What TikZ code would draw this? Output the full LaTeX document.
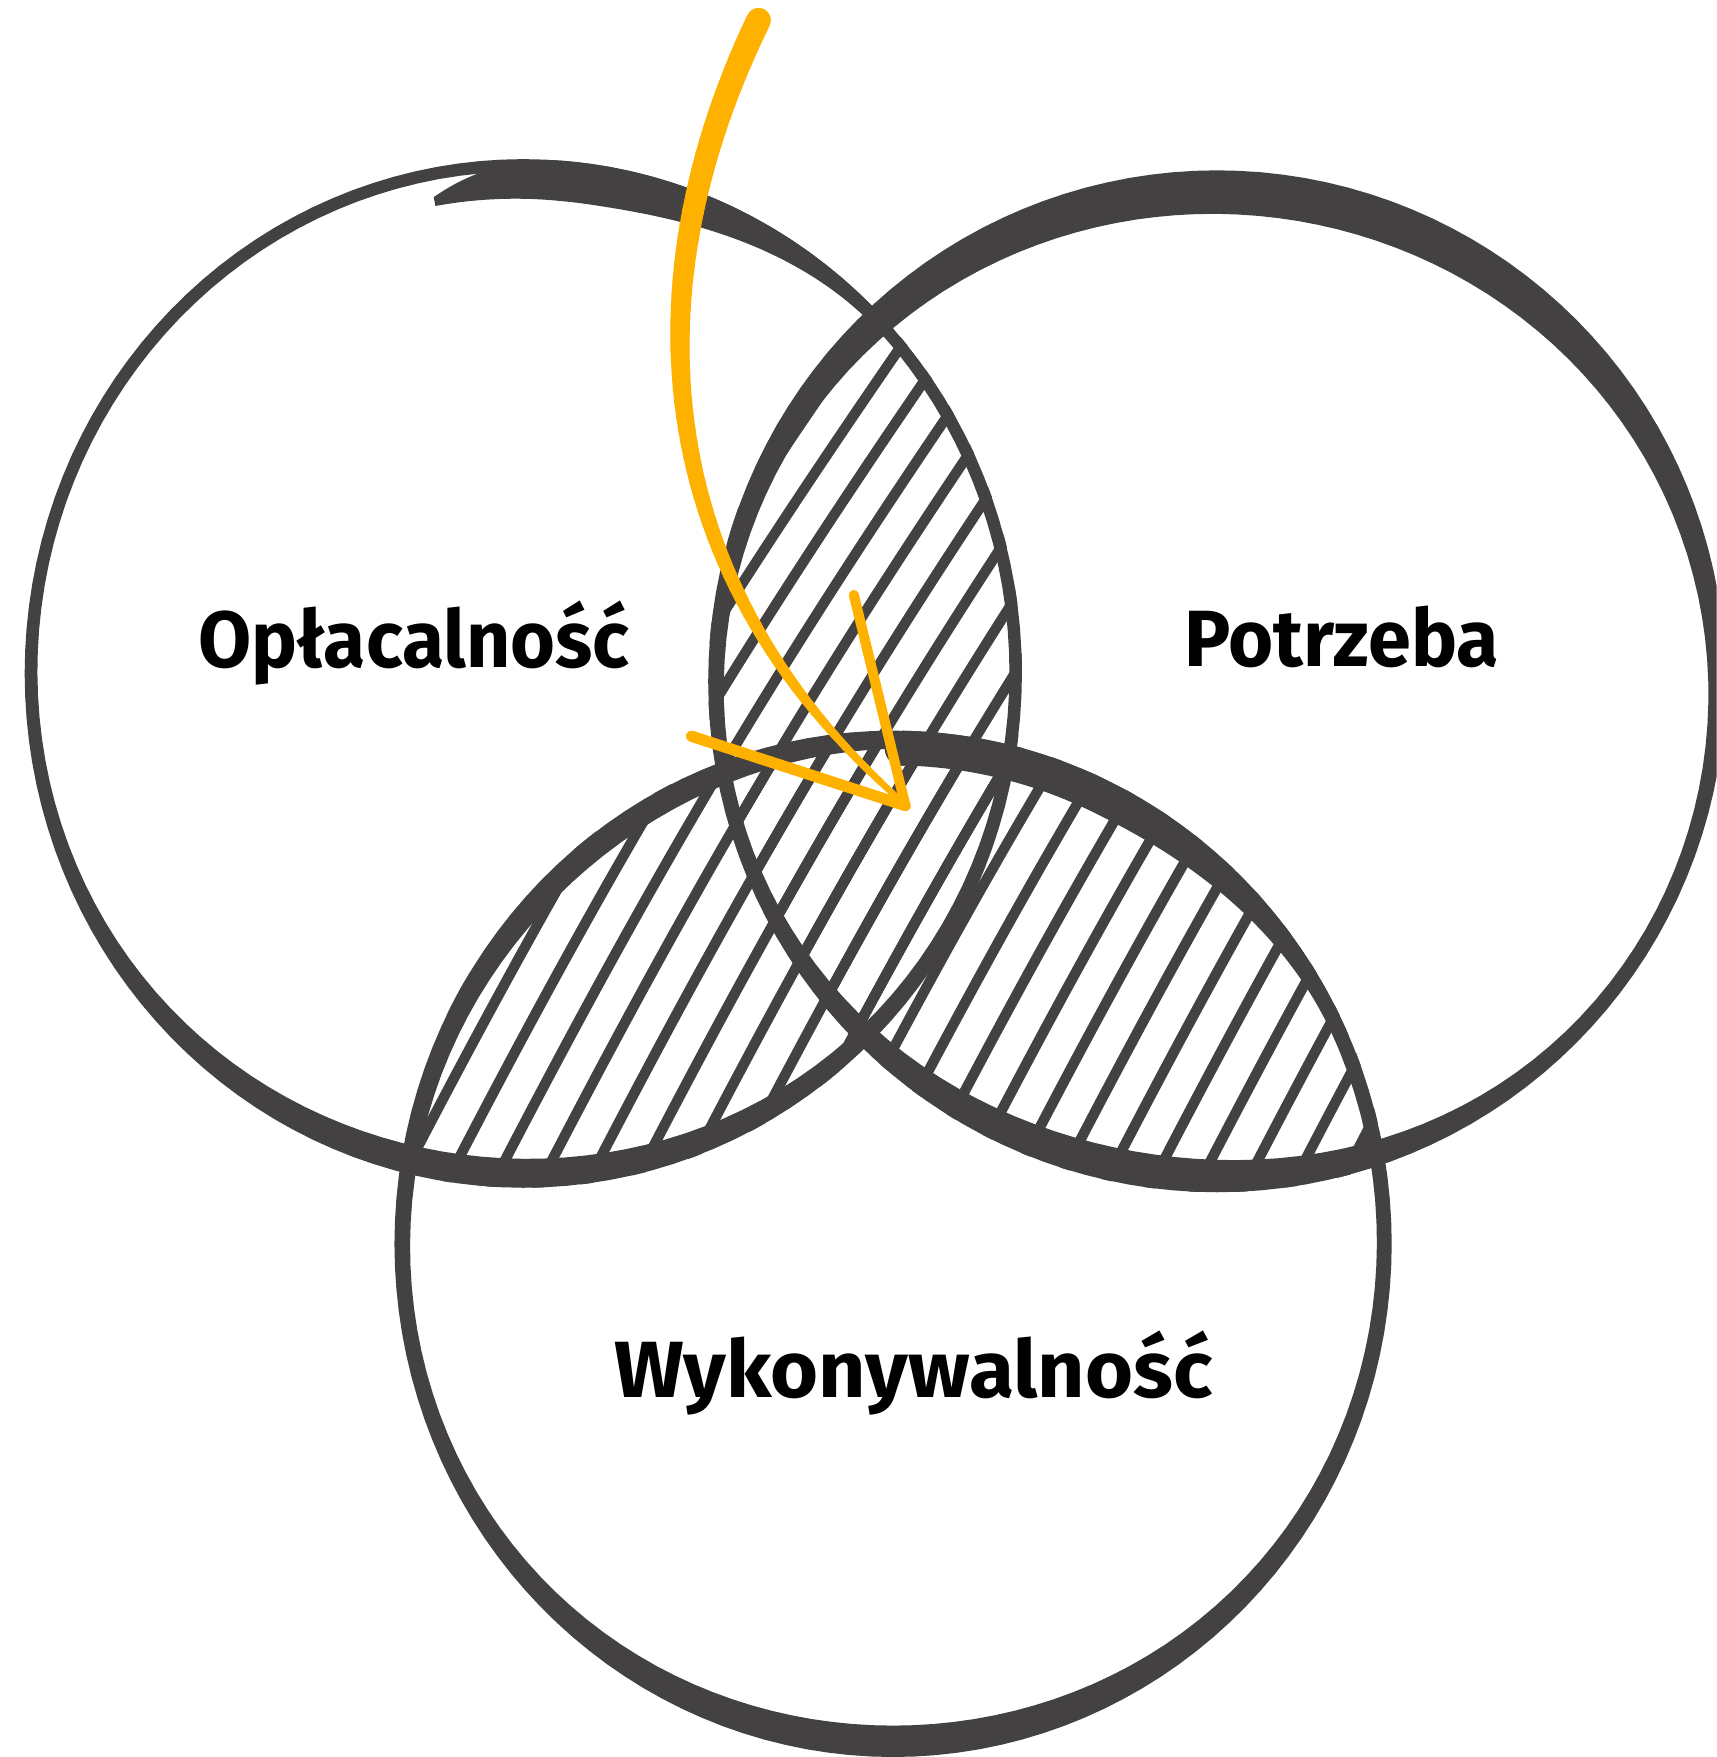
\documentclass[tikz,border=0pt]{standalone}
\usepackage{fontspec}
\setmainfont{Fira Sans}
\usepackage{graphicx}
\definecolor{ink}{HTML}{434142}
\definecolor{amber}{HTML}{FFB100}
\begin{document}
\begin{tikzpicture}[x=0.5pt,y=-0.5pt,
  declare function={
    bmp(\t,\c,\k)=((1+cos(\t-\c))/2+0.0001)^\k;
    wA(\t)=11+15*bmp(\t,95,6);
    oA(\t)=26*max(0,(275-\t)/16)*max(0,(275-\t)/16);
    uA(\t)=min(1,max(0,(\t-278)/40));
    dA(\t)=min(34+2*(\t-259)/16,36)-25*uA(\t)*uA(\t)*(3-2*uA(\t));
    wB(\t)=11+28*bmp(\t,275,3)+19*bmp(\t,100,8);
    wC(\t)=13+15*bmp(\t,90,6)+8*bmp(\t,235,10);
    uC(\t)=min(1,max(0,(\t-295)/41));
    tC(\t)=31-18*uC(\t)*uC(\t)*(3-2*uC(\t));
    bx(\t)=(1-\t)*(1-\t)*(1-\t)*677+3*(1-\t)*(1-\t)*\t*560+3*(1-\t)*\t*\t*580+\t*\t*\t*808;
    by(\t)=(1-\t)*(1-\t)*(1-\t)*18+3*(1-\t)*(1-\t)*\t*260+3*(1-\t)*\t*\t*520+\t*\t*\t*718;
    aw(\t)=22-17*(0.6*\t+0.4*\t*\t);
  },
  ring/.style={fill=ink, even odd rule},
  hatch/.style={draw=ink, line width=4.6pt, line cap=round},
  vlabel/.style={inner sep=0pt, anchor=base, text=black,
    font=\bfseries\fontsize{35.6pt}{40pt}\selectfont},
  barb/.style={draw=amber, line cap=round},
]
\useasboundingbox (0,0) rectangle (1532,1568);
\fill[white] (0,0) rectangle (1532,1568);
\clip (0,0) rectangle (1532,1568);

% ---------- hatching of the pairwise overlaps ----------
\begin{scope}
  \clip (467,601) ellipse [x radius=445, y radius=459];
  \clip (1086,608) ellipse [x radius=454, y radius=456];
  \foreach \x in {150,192,...,1400} \draw[hatch] (\x,1130) to[bend left=4] ++(541,-900);
\end{scope}
\begin{scope}
  \clip (467,601) ellipse [x radius=445, y radius=459];
  \clip (797,1110) ellipse [x radius=445, y radius=458];
  \foreach \x in {150,192,...,1400} \draw[hatch] (\x,1130) to[bend left=4] ++(541,-900);
\end{scope}
\begin{scope}
  \clip (1086,608) ellipse [x radius=454, y radius=456];
  \clip (797,1110) ellipse [x radius=445, y radius=458];
  \foreach \x in {150,192,...,1400} \draw[hatch] (\x,1130) to[bend left=4] ++(541,-900);
\end{scope}

% ---------- hand-drawn rings ----------
% Oplacalnosc
\fill[ring]
  plot[variable=\t,domain=0:360,samples=145] ({467+445*cos(\t)},{601+459*sin(\t)}) -- cycle
  plot[variable=\t,domain=0:360,samples=145] ({467+(445-wA(\t))*cos(\t)},{601+(459-wA(\t))*sin(\t)}) -- cycle;
\fill[ink]
  plot[variable=\t,domain=259:318,samples=80] ({467+(445-oA(\t))*cos(\t)},{601+(459-oA(\t))*sin(\t)})
  -- plot[variable=\t,domain=318:259,samples=80] ({467+(445-dA(\t))*cos(\t)},{601+(459-dA(\t))*sin(\t)}) -- cycle;
% Potrzeba
\fill[ring]
  plot[variable=\t,domain=0:360,samples=145] ({1086+454*cos(\t)},{608+456*sin(\t)}) -- cycle
  plot[variable=\t,domain=0:360,samples=145] ({1086+(454-wB(\t))*cos(\t)},{608+(456-wB(\t))*sin(\t)}) -- cycle;
% Wykonywalnosc
\fill[ring]
  plot[variable=\t,domain=0:360,samples=145] ({797+445*cos(\t)},{1110+458*sin(\t)}) -- cycle
  plot[variable=\t,domain=0:360,samples=145] ({797+(445-wC(\t))*cos(\t)},{1110+(458-wC(\t))*sin(\t)}) -- cycle;
\fill[ink]
  plot[variable=\t,domain=271:336,samples=60] ({797+445*cos(\t)},{1110+458*sin(\t)})
  -- plot[variable=\t,domain=336:271,samples=60] ({797+(445-tC(\t))*cos(\t)},{1110+(458-tC(\t))*sin(\t)}) -- cycle;
\fill[ink] (805,668) circle [radius=15.5];

% ---------- labels ----------
\node[vlabel] (opl) at (369.5,596) {\resizebox{192.5pt}{\height}{Opłacalność}};
\node[vlabel] (pot) at (1197.5,595) {\resizebox{140.5pt}{\height}{Potrzeba}};
\node[vlabel] (wyk) at (815,1247) {\resizebox{267pt}{\height}{Wykonywalność}};

% ---------- orange arrow ----------
\foreach \i in {0,...,59} {
  \pgfmathsetmacro{\ta}{\i/60}
  \pgfmathsetmacro{\tb}{(\i+1)/60}
  \pgfmathsetmacro{\w}{aw(\ta)*0.5}
  \pgfmathsetmacro{\xa}{bx(\ta)}
  \pgfmathsetmacro{\ya}{by(\ta)}
  \pgfmathsetmacro{\xb}{bx(\tb)}
  \pgfmathsetmacro{\yb}{by(\tb)}
  \draw[amber, line width=\w pt, line cap=round] (\xa,\ya) -- (\xb,\yb);
}
\coordinate (tip) at (808,719);
\coordinate (barbL) at (617,657);
\coordinate (barbR) at (762,531);
\draw[barb, line width=5pt] (barbL) -- (tip);
\draw[barb, line width=4.5pt] (barbR) -- (tip);
\end{tikzpicture}
\end{document}
